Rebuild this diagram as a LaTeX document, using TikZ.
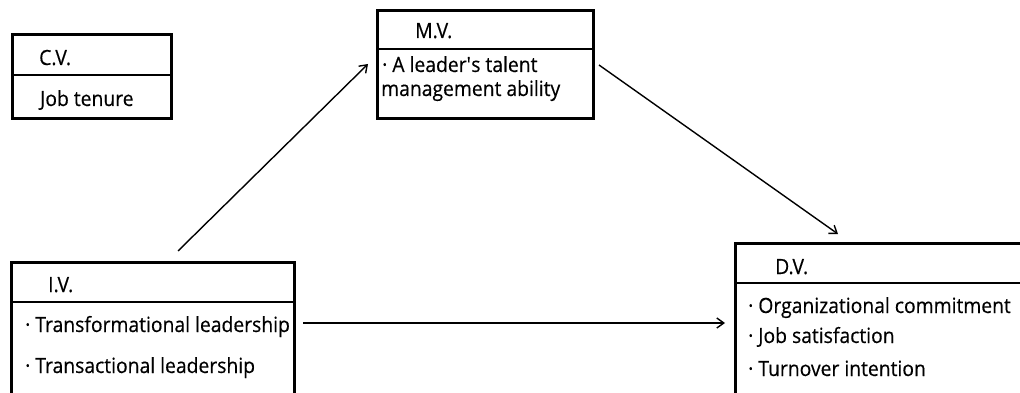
\documentclass[tikz,border=0pt]{standalone}
\usepackage{fontspec}
\setmainfont{Open Sans}[FakeStretch=0.92,FakeBold=0.4]
\usetikzlibrary{arrows.meta}
\begin{document}
\begin{tikzpicture}[x=1pt,y=-1pt,
  lbl/.style={anchor=base west, inner sep=0pt, font=\fontsize{21}{24}\selectfont},
  frame/.style={line width=3pt},
  divider/.style={line width=1.4pt},
  conn/.style={line width=1.4pt, -{Straight Barb[length=7pt,width=10pt,line width=1.4pt]}}]
\useasboundingbox (0,0) rectangle (1020,393);
% C.V.
\node[draw, frame, minimum width=159pt, minimum height=84pt, anchor=north west, inner sep=0pt] (cv) at (11,33) {};
\draw[divider] (11,75) -- (170,75);
\node[lbl] (cvt) at (39,65) {C.V.};
\node[lbl] (cv1) at (40,106) {Job tenure};
% M.V.
\node[draw, frame, minimum width=216pt, minimum height=108pt, anchor=north west, inner sep=0pt] (mv) at (376,9) {};
\draw[divider] (376,49) -- (592,49);
\node[lbl] (mvt) at (415,38) {M.V.};
\node[lbl] (mv1) at (382,72) {· A leader\textquotesingle s talent};
\node[lbl] (mv2) at (381,96) {management ability};
% I.V.
\node[minimum width=283pt, minimum height=140pt, anchor=north west, inner sep=0pt] (iv) at (11,262) {};
\draw[frame] (iv.south west) -- (iv.north west) -- (iv.north east) -- (iv.south east);
\draw[divider] (11,302) -- (294,302);
\node[lbl] (ivt) at (48,292) {I.V.};
\node[lbl] (iv1) at (25,332) {· Transformational leadership};
\node[lbl] (iv2) at (25,373) {· Transactional leadership};
% D.V.
\node[minimum width=300pt, minimum height=160pt, anchor=north west, inner sep=0pt] (dv) at (735,243) {};
\draw[frame] (dv.south west) -- (dv.north west) -- (dv.north east);
\draw[divider] (735,283) -- (1030,283);
\node[lbl] (dvt) at (775,274) {D.V.};
\node[lbl] (dv1) at (748,313) {· Organizational commitment};
\node[lbl] (dv2) at (748,343) {· Job satisfaction};
\node[lbl] (dv3) at (748,376) {· Turnover intention};
% connectors
\coordinate (p1) at (178,251);
\coordinate (p2) at (368,64);
\coordinate (p3) at (599,65);
\coordinate (p4) at (838,234);
\coordinate (p5) at (303,323);
\coordinate (p6) at (725,323);
\draw[conn] (p1) -- (p2);
\draw[conn] (p3) -- (p4);
\draw[conn] (p5) -- (p6);
\end{tikzpicture}
\end{document}
